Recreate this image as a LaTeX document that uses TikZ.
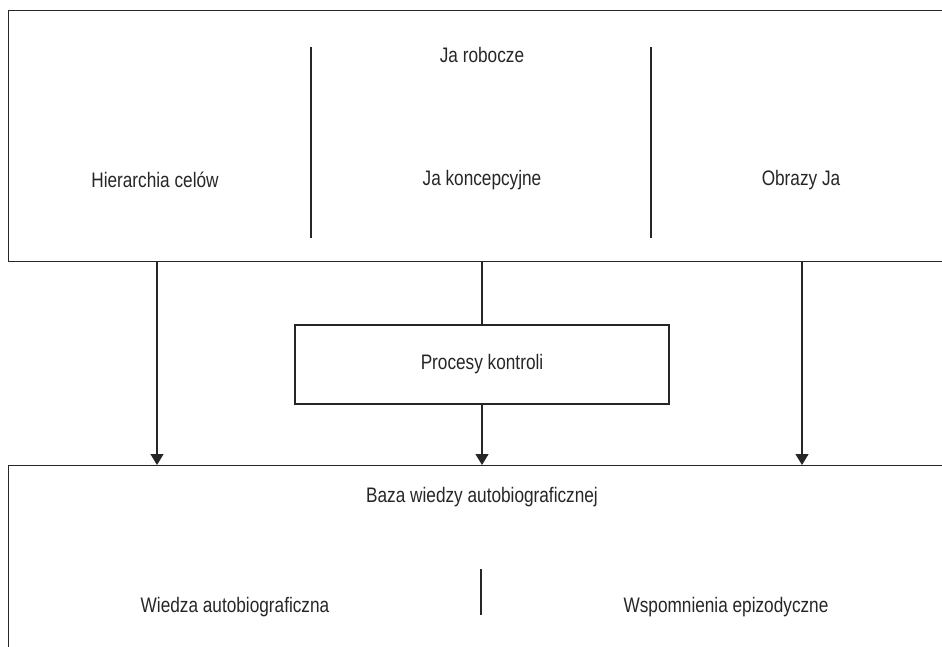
\documentclass[tikz,border=0pt]{standalone}
\usepackage{fontspec}
\setmainfont{Liberation Sans}[FakeStretch=0.82]
\usetikzlibrary{positioning}
\usetikzlibrary{calc}
\usetikzlibrary{arrows.meta}

\begin{document}
\begin{tikzpicture}[x=1pt,y=-1pt,
    box/.style={draw=black!85,line width=1.2pt,inner sep=0pt},
    txt/.style={font=\fontsize{21}{24}\selectfont,text=black!85,inner sep=0pt},
    link/.style={draw=black!85,line width=1.2pt},
    arrowlink/.style={link,-{Triangle[width=13pt,length=11pt]}}]
    \useasboundingbox (0,0) rectangle (942,647);
    \clip (0,0) rectangle (942,647);
    % gorny blok
    \node[box,anchor=north west,minimum width=960pt,minimum height=251pt] (self) at (8,10) {};
    \node[txt] (robocze) at (482,55) {Ja robocze};
    \node[txt] (cele) at (155,180) {Hierarchia celów};
    \node[txt] (koncepcja) at (482,180) {Ja koncepcyjne};
    \node[txt] (obrazy) at (801,180) {Obrazy Ja};
    \draw[link] (311,47) -- (311,238);
    \draw[link] (651,47) -- (651,238);
    % kontrola
    \node[box,minimum width=374pt,minimum height=79pt] (kontrola) at (482,364.5) {};
    \node[txt] at (kontrola) {Procesy kontroli};
    % dolny blok
    \node[box,anchor=north west,minimum width=960pt,minimum height=220pt] (baza) at (8,465) {};
    \node[txt] (wiedza) at (482,497) {Baza wiedzy autobiograficznej};
    \node[txt] (autobio) at (235,607) {Wiedza autobiograficzna};
    \node[txt] (epizody) at (726,607) {Wspomnienia epizodyczne};
    \draw[link] (481,569) -- (481,615);
    % polaczenia
    \draw[link] (self.south -| kontrola.north) -- (kontrola.north);
    \draw[arrowlink] (kontrola.south) -- (kontrola.south |- baza.north);
    \draw[arrowlink] (self.south -| 157,0) -- (157,0 |- baza.north);
    \draw[arrowlink] (self.south -| 802,0) -- (802,0 |- baza.north);
\end{tikzpicture}
\end{document}
